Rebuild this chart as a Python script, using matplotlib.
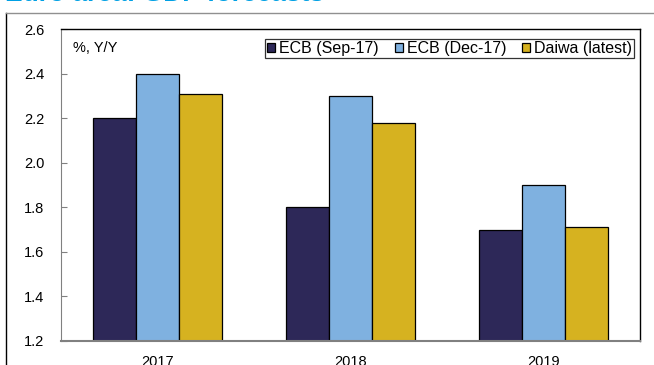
import numpy as np
import matplotlib
matplotlib.use("Agg")
import matplotlib.pyplot as plt
from matplotlib.lines import Line2D

plt.rcParams["font.family"] = ["Liberation Sans", "DejaVu Sans"]

years = ["2017", "2018", "2019"]
series_names = ["ECB (Sep-17)", "ECB (Dec-17)", "Daiwa (latest)"]
ecb_sep17 = [2.2, 1.8, 1.7]
ecb_dec17 = [2.4, 2.3, 1.9]
daiwa_latest = [2.31, 2.18, 1.71]
colors = ["#2D2858", "#7FB1E0", "#D6B220"]

W, H = 654, 365
fig = plt.figure(figsize=(W / 100, H / 100), dpi=100)

# axes placement in pixels: left 61, right 640, top 29, bottom 341
ax = fig.add_axes([61 / W, 1 - 341 / H, (640 - 61) / W, (341 - 29) / H])

x = np.arange(len(years))
bw = 0.222
for i, (vals, name, c) in enumerate(zip([ecb_sep17, ecb_dec17, daiwa_latest],
                                        series_names, colors)):
    ax.bar(x + (i - 1) * bw, np.array(vals) - 1.2, bw, bottom=1.2,
           color=c, edgecolor="black", linewidth=0.9, label=name, zorder=2)

ax.set_xlim(-0.5, 2.5)
ax.set_ylim(1.2, 2.6)
ax.set_yticks(np.arange(1.2, 2.61, 0.2))
ax.set_yticklabels([f"{v:.1f}" for v in np.arange(1.2, 2.61, 0.2)])
ax.set_xticks(x)
ax.set_xticklabels(years)
ax.tick_params(axis="y", direction="in", length=4, color="#808080",
               labelsize=10.5, pad=12)
ax.tick_params(axis="x", length=0, labelsize=10.5, pad=10)
for side in ["top", "right"]:
    ax.spines[side].set_color("black")
    ax.spines[side].set_linewidth(1.0)
ax.spines["left"].set_color("#808080")
ax.spines["bottom"].set_color("#808080")
ax.spines["bottom"].set_linewidth(1.5)

ax.text(0.02, 0.94, "%, Y/Y", transform=ax.transAxes, fontsize=10.5,
        va="center", ha="left")

leg = ax.legend(loc="upper right", bbox_to_anchor=(0.99, 0.968), ncol=3,
                fontsize=11.5, frameon=True, fancybox=False, handlelength=0.5,
                handleheight=0.5, handletextpad=0.25, columnspacing=1.0,
                borderpad=0.12, borderaxespad=0)
leg.get_frame().set_edgecolor("black")
leg.get_frame().set_linewidth(0.9)

# outer panel frame and cut-off title
fig.add_artist(Line2D([6 / W, 6 / W], [0, 1 - 13 / H], color="black", lw=1.0))
fig.add_artist(Line2D([6 / W, 1], [1 - 13 / H, 1 - 13 / H], color="#909090", lw=1.0))
fig.text(5 / W, 1 - 1 / H, "Euro area: GDP forecasts", color="#00A0E4",
         fontsize=19, fontweight="bold", ha="left", va="baseline")

fig.savefig("out.png", dpi=100)
